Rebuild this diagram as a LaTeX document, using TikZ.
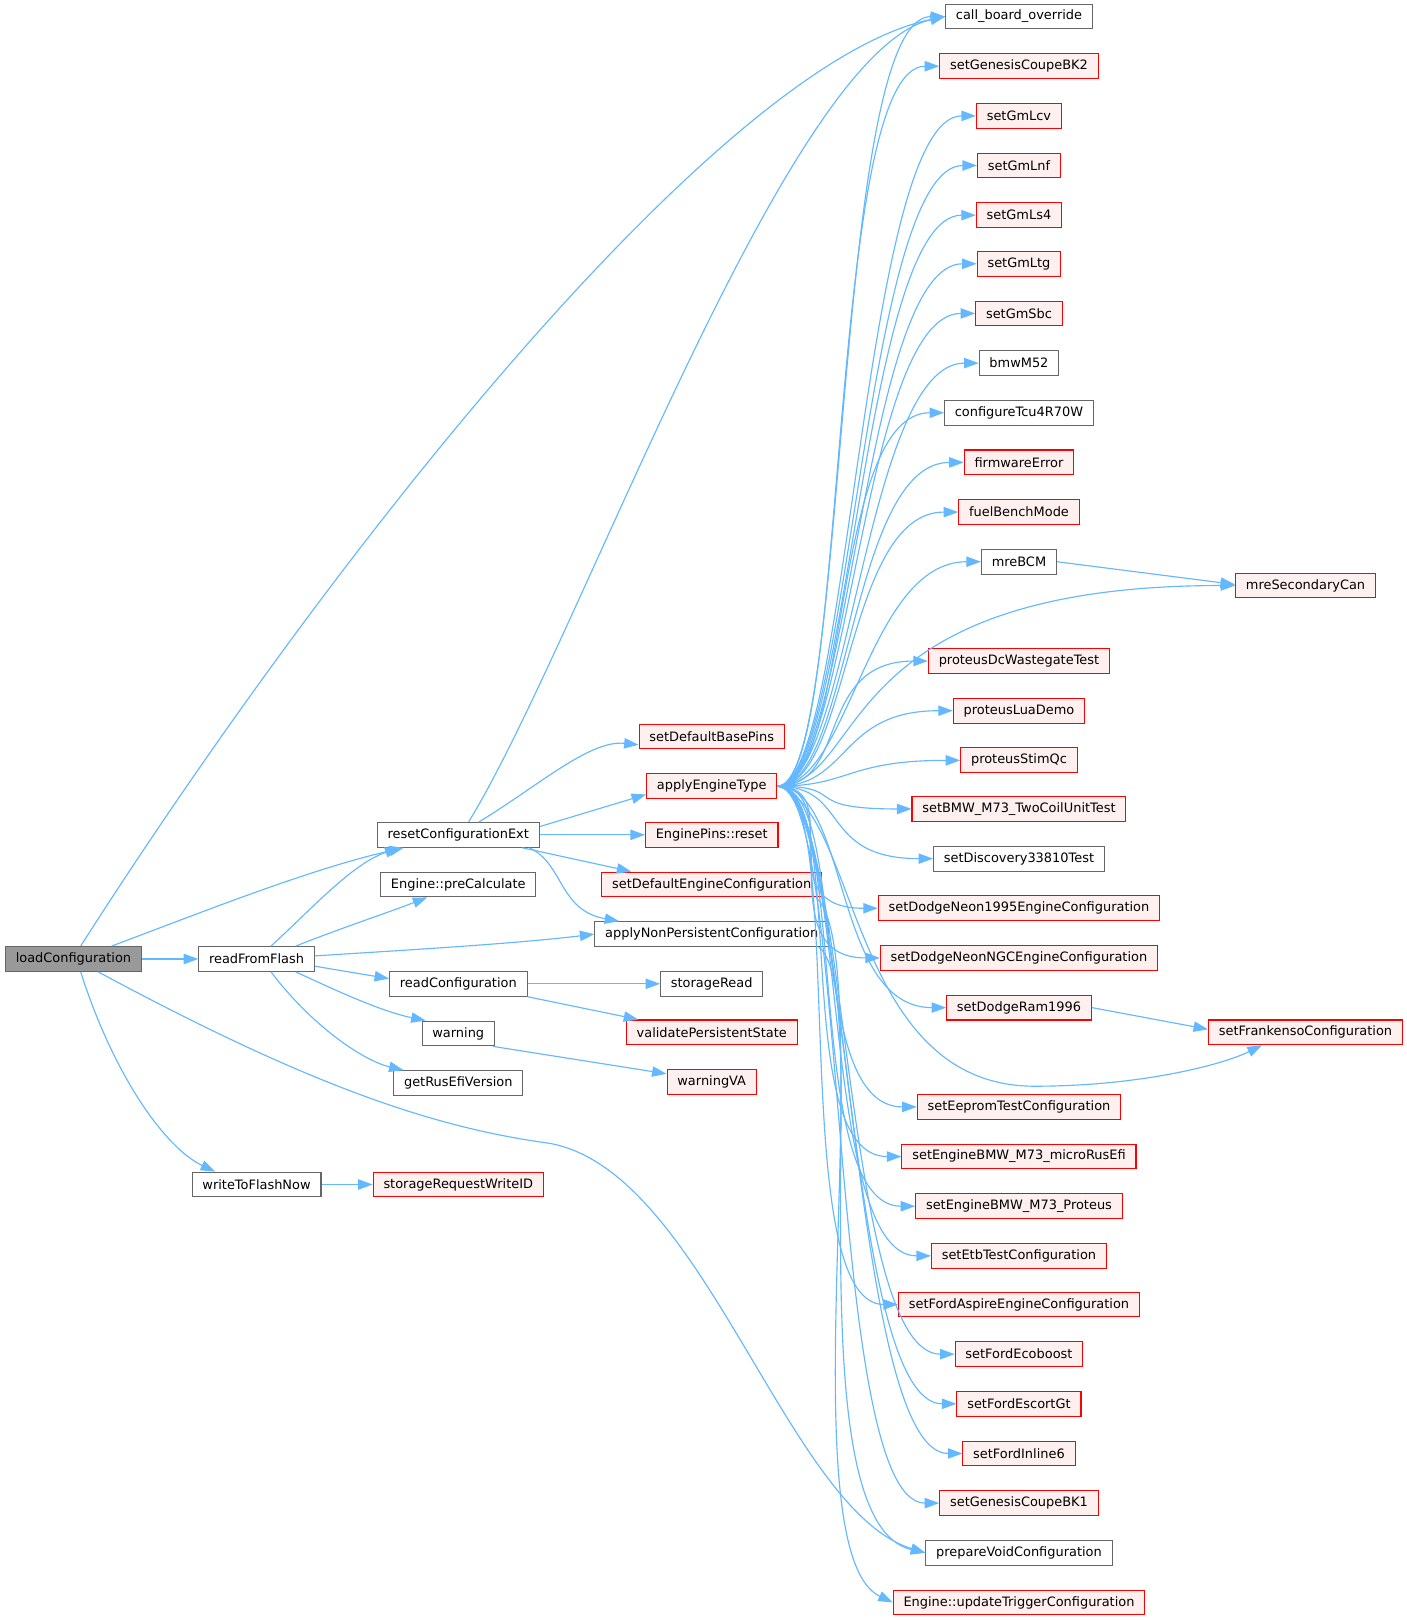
\documentclass[tikz,border=0pt]{standalone}
\usepackage{fontspec}
\setmainfont{DejaVu Sans}
\usetikzlibrary{arrows.meta}
\definecolor{edgeblue}{HTML}{63B8FF}
\definecolor{boxgray}{HTML}{666666}
\definecolor{rootgray}{HTML}{999999}
\definecolor{redfill}{HTML}{FFF0F0}
\tikzstyle{func} = [rectangle, minimum height=24pt, inner xsep=10pt, inner ysep=2pt, text centered, draw=boxgray, fill=white, line width=1pt, font=\fontsize{12.5pt}{14pt}\selectfont]
\tikzstyle{funcred} = [func, draw=red, fill=redfill]
\tikzstyle{root} = [func, fill=rootgray]
\tikzstyle{arrow} = [draw=edgeblue, line width=1.1pt, ->, >={Triangle[length=14pt,width=10pt]}]

\begin{document}
\begin{tikzpicture}[x=1pt,y=-1pt]
\useasboundingbox [fill=white] (0,0) rectangle (1360,1566);
% left part
\node (lc) [root] at (71,927) {loadConfiguration};
\node (rff) [func] at (248,927) {readFromFlash};
\node (wtf) [func] at (248,1145) {writeToFlashNow};
\node (rce) [func] at (443,807) {resetConfigurationExt};
\node (epc) [func] at (443,855) {Engine::preCalculate};
\node (rc) [func] at (443,951) {readConfiguration};
\node (warn) [func] at (443,999) {warning};
\node (grv) [func] at (443,1047) {getRusEfiVersion};
\node (srw) [funcred] at (443,1145) {storageRequestWriteID};
\node (sdbp) [funcred] at (688,712) {setDefaultBasePins};
\node (aet) [funcred] at (688,760) {applyEngineType};
\node (epr) [funcred] at (688,807) {EnginePins::reset};
\node (sdec) [funcred] at (688,855) {setDefaultEngineConfiguration};
\node (anp) [func] at (688,903) {applyNonPersistentConfiguration};
\node (sr) [func] at (688,951) {storageRead};
\node (vps) [funcred] at (688,998) {validatePersistentState};
\node (wva) [funcred] at (688,1046) {warningVA};
% right column
\node (cbo) [func] at (985,16) {call\_board\_override};
\node (gbk2) [funcred] at (985,64) {setGenesisCoupeBK2};
\node (lcv) [funcred] at (985,112) {setGmLcv};
\node (lnf) [funcred] at (985,160) {setGmLnf};
\node (ls4) [funcred] at (985,208) {setGmLs4};
\node (ltg) [funcred] at (985,255) {setGmLtg};
\node (sbc) [funcred] at (985,303) {setGmSbc};
\node (m52) [func] at (985,351) {bmwM52};
\node (tcu) [func] at (985,399) {configureTcu4R70W};
\node (fwe) [funcred] at (985,447) {firmwareError};
\node (fbm) [funcred] at (985,495) {fuelBenchMode};
\node (bcm) [func] at (985,543) {mreBCM};
\node (pdw) [funcred] at (985,639) {proteusDcWastegateTest};
\node (pld) [funcred] at (985,687) {proteusLuaDemo};
\node (psq) [funcred] at (985,735) {proteusStimQc};
\node (m73t) [funcred] at (985,782) {setBMW\_M73\_TwoCoilUnitTest};
\node (d338) [func] at (985,830) {setDiscovery33810Test};
\node (dn95) [funcred] at (985,878) {setDodgeNeon1995EngineConfiguration};
\node (dngc) [funcred] at (985,926) {setDodgeNeonNGCEngineConfiguration};
\node (dr96) [funcred] at (985,974) {setDodgeRam1996};
\node (eep) [funcred] at (985,1070) {setEepromTestConfiguration};
\node (m73m) [funcred] at (985,1118) {setEngineBMW\_M73\_microRusEfi};
\node (m73p) [funcred] at (985,1166) {setEngineBMW\_M73\_Proteus};
\node (etb) [funcred] at (985,1214) {setEtbTestConfiguration};
\node (fasp) [funcred] at (985,1261) {setFordAspireEngineConfiguration};
\node (feco) [funcred] at (985,1309) {setFordEcoboost};
\node (fesc) [funcred] at (985,1357) {setFordEscortGt};
\node (fi6) [funcred] at (985,1405) {setFordInline6};
\node (gbk1) [funcred] at (985,1453) {setGenesisCoupeBK1};
\node (pvc) [func] at (985,1501) {prepareVoidConfiguration};
\node (utc) [funcred] at (985,1549) {Engine::updateTriggerConfiguration};
\node (msc) [funcred] at (1262,566) {mreSecondaryCan};
\node (sfc) [funcred] at (1262,998) {setFrankensoConfiguration};

% loadConfiguration
\draw [arrow] (lc.east) -- (rff.west);
\draw [arrow] ([xshift=7pt]lc.north) .. controls (330,520) and (700,60) .. (cbo.west);
\draw [arrow] ([xshift=37pt]lc.north) .. controls (200,880) and (300,840) .. ([xshift=26pt]rce.south west);
\draw [arrow] ([xshift=24pt]lc.south) .. controls (300,1050) and (420,1090) .. (530,1105) .. controls (680,1130) and (760,1460) .. (pvc.west);
\draw [arrow] ([xshift=7pt]lc.south) .. controls (110,1040) and (160,1110) .. ([xshift=-40pt]wtf.north);
% readFromFlash
\draw [arrow] ([xshift=14pt]rff.north) .. controls (300,880) and (340,835) .. ([xshift=22pt]rce.south west);
\draw [arrow] ([xshift=38pt]rff.north) .. controls (330,897) and (370,884) .. ([xshift=-30pt]epc.south);
\draw [arrow] ([yshift=3pt]rff.east) .. controls (400,918) and (500,912) .. (anp.west);
\draw [arrow] ([yshift=-7pt]rff.east) -- ([yshift=5pt]rc.west);
\draw [arrow] ([xshift=38pt]rff.south) .. controls (330,960) and (370,978) .. ([xshift=4pt]warn.north west);
\draw [arrow] ([xshift=14pt]rff.south) .. controls (300,990) and (350,1025) .. ([xshift=10pt]grv.north west);
\draw [arrow] (wtf.east) -- (srw.west);
% resetConfigurationExt
\draw [arrow] ([xshift=10pt]rce.north) .. controls (560,620) and (760,50) .. (cbo.west);
\draw [arrow] ([xshift=20pt]rce.north) .. controls (520,760) and (570,715) .. ([yshift=-8pt]sdbp.west);
\draw [arrow] ([yshift=8pt]rce.east) -- ([yshift=-8pt]aet.west);
\draw [arrow] (rce.east) -- (epr.west);
\draw [arrow] ([xshift=-17pt]rce.south east) -- ([xshift=29pt]sdec.north west);
\draw [arrow] ([xshift=-10pt]rce.south east) .. controls (545,835) and (540,880) .. ([xshift=24pt]anp.north west);
% readConfiguration, warning
\draw [arrow] (rc.east) -- (sr.west);
\draw [arrow] (rc.south east) -- ([xshift=12pt]vps.north west);
\draw [arrow] ([xshift=-2pt]warn.south east) -- ([yshift=8pt]wva.west);
% applyEngineType
\draw [arrow] (aet.east) .. controls +(70,0) and +(-110,0) .. (cbo.west);
\draw [arrow] (aet.east) .. controls +(70,0) and +(-110,0) .. (gbk2.west);
\draw [arrow] (aet.east) .. controls +(70,0) and +(-110,0) .. (lcv.west);
\draw [arrow] (aet.east) .. controls +(70,0) and +(-110,0) .. (lnf.west);
\draw [arrow] (aet.east) .. controls +(70,0) and +(-110,0) .. (ls4.west);
\draw [arrow] (aet.east) .. controls +(70,0) and +(-110,0) .. (ltg.west);
\draw [arrow] (aet.east) .. controls +(70,0) and +(-110,0) .. (sbc.west);
\draw [arrow] (aet.east) .. controls +(70,0) and +(-110,0) .. (m52.west);
\draw [arrow] (aet.east) .. controls +(70,0) and +(-110,0) .. (tcu.west);
\draw [arrow] (aet.east) .. controls +(70,0) and +(-110,0) .. (fwe.west);
\draw [arrow] (aet.east) .. controls +(70,0) and +(-110,0) .. (fbm.west);
\draw [arrow] (aet.east) .. controls +(70,0) and +(-110,0) .. (bcm.west);
\draw [arrow] (aet.east) .. controls (840,756) and (800,566) .. (msc.west);
\draw [arrow] (aet.east) .. controls +(70,0) and +(-110,0) .. (pdw.west);
\draw [arrow] (aet.east) .. controls +(70,0) and +(-110,0) .. (pld.west);
\draw [arrow] (aet.east) .. controls +(70,0) and +(-110,0) .. (psq.west);
\draw [arrow] (aet.east) .. controls +(70,0) and +(-110,0) .. (m73t.west);
\draw [arrow] (aet.east) .. controls +(70,0) and +(-110,0) .. (d338.west);
\draw [arrow] (aet.east) .. controls +(70,0) and +(-110,0) .. (dn95.west);
\draw [arrow] (aet.east) .. controls +(70,0) and +(-110,0) .. (dngc.west);
\draw [arrow] (aet.east) .. controls +(70,0) and +(-110,0) .. (dr96.west);
\draw [arrow] (aet.east) .. controls (830,780) and (820,1050) .. (1000,1050) .. controls (1100,1050) and (1180,1030) .. ([xshift=52pt]sfc.south west);
\draw [arrow] (aet.east) .. controls +(70,0) and +(-110,0) .. (eep.west);
\draw [arrow] (aet.east) .. controls +(70,0) and +(-110,0) .. (m73m.west);
\draw [arrow] (aet.east) .. controls +(70,0) and +(-110,0) .. (m73p.west);
\draw [arrow] (aet.east) .. controls +(70,0) and +(-110,0) .. (etb.west);
\draw [arrow] (aet.east) .. controls +(70,0) and +(-110,0) .. (fasp.west);
\draw [arrow] (aet.east) .. controls +(70,0) and +(-110,0) .. (feco.west);
\draw [arrow] (aet.east) .. controls +(70,0) and +(-110,0) .. (fesc.west);
\draw [arrow] (aet.east) .. controls +(70,0) and +(-110,0) .. (fi6.west);
\draw [arrow] (aet.east) .. controls +(70,0) and +(-110,0) .. (gbk1.west);
% others
\draw [arrow] ([xshift=-6pt]sdec.south east) .. controls (850,920) and (760,1470) .. (pvc.west);
\draw [arrow] ([xshift=-10pt]anp.south east) .. controls (850,960) and (760,1500) .. (utc.west);
\draw [arrow] (bcm.east) -- ([yshift=1pt]msc.west);
\draw [arrow] (dr96.east) -- ([yshift=3pt]sfc.west);
\end{tikzpicture}
\end{document}
